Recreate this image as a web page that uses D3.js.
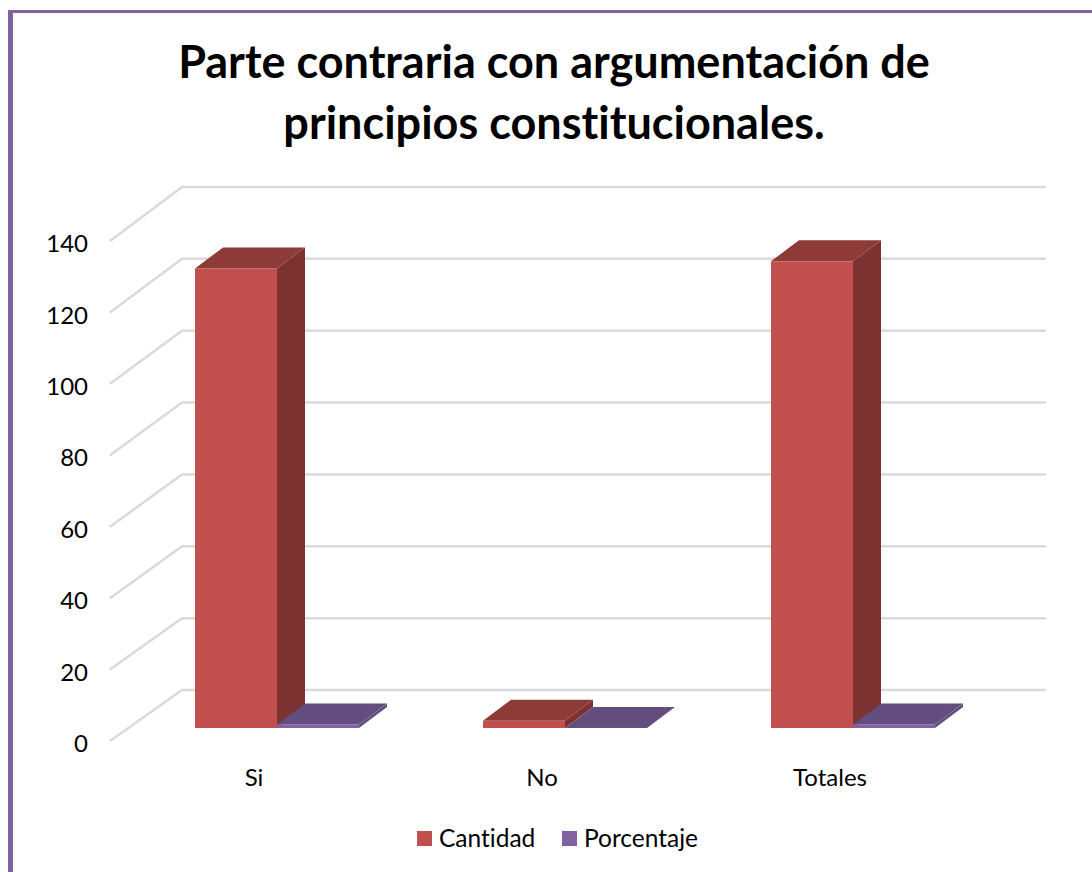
<!DOCTYPE html>
<html>
<head>
<meta charset="utf-8">
<script src="https://cdn.jsdelivr.net/npm/d3@7"></script>
<style>
  html, body { margin: 0; padding: 0; background: #fff; }
  svg { display: block; }
  text { font-family: Lato, "Open Sans", sans-serif; fill: #000; font-variant-ligatures: none; }
</style>
</head>
<body>
<script>
// chart values
var categories = ["Si", "No", "Totales"];
var seriesNames = ["Cantidad", "Porcentaje"];
var cantidad = [128, 2, 130];
var porcentaje = [1, 0.02, 1];
var yTicks = [0, 20, 40, 60, 80, 100, 120, 140];
var titleLines = ["Parte contraria con argumentación de", "principios constitucionales."];

var width = 1092;
var height = 872;

var colors = {
  Cantidad: { front: "#c0504d", side: "#7d3130", top: "#8e3a38" },
  Porcentaje: { front: "#8064a2", side: "#644e7e", top: "#644e7e" }
};

var svg = d3.select("body").append("svg")
  .attr("width", width)
  .attr("height", height);

// the picture is a little soft, so marks get a slight blur
svg.append("defs").append("filter")
  .attr("id", "soft")
  .append("feGaussianBlur")
  .attr("stdDeviation", 0.6);

// purple frame, top and left only
svg.append("rect").attr("x", 8).attr("y", 10).attr("width", width - 8).attr("height", 3).attr("fill", "#8064a2");
svg.append("rect").attr("x", 8).attr("y", 10).attr("width", 5).attr("height", height - 10).attr("fill", "#8064a2");

// title
svg.selectAll("text.title")
  .data(titleLines)
  .enter()
  .append("text")
  .attr("class", "title")
  .attr("x", 554)
  .attr("y", (d, i) => 78 + i * 61)
  .attr("text-anchor", "middle")
  .style("font-size", "45px")
  .style("font-weight", 700)
  .text(d => d);

// scales: front edge of the floor, back wall, and the plane the bars stand on
var yFront = d3.scaleLinear().domain([0, 140]).range([741, 241]);
var yBack = d3.scaleLinear().domain([0, 140]).range([690, 187]);
var yBar = d3.scaleLinear().domain([0, 140]).range([728, 225.4]);

var xLabel = d3.scaleBand().domain(categories).range([110, 974]);
var xGroup = d3.scaleBand().domain(categories).range([133, 997]).paddingInner(0.4306).paddingOuter(0.2153);
var xSeries = d3.scaleBand().domain(seriesNames).range([0, xGroup.bandwidth()]);

var wallLeft = 182;
var wallRight = 1046;
var frontLeft = 110;
var depthX = 28;
var depthY = -21;

// gridlines along the side and back walls
var grid = svg.append("g")
  .attr("filter", "url(#soft)")
  .attr("fill", "none")
  .attr("stroke", "#dadada")
  .attr("stroke-width", 2.5);

grid.selectAll("path")
  .data(yTicks)
  .enter()
  .append("path")
  .attr("d", d => d3.line()([
    [frontLeft, yFront(d)],
    [wallLeft, yBack(d)],
    [wallRight, yBack(d)]
  ]));

// 3d bars, red first so the purple floor piece sits over its side face
var bars = svg.append("g").attr("filter", "url(#soft)");

function drawSeries(name, values) {
  var c = colors[name];
  var w = xSeries.bandwidth();
  var base = yBar(0);
  categories.forEach(function(cat, i) {
    var x = xGroup(cat) + xSeries(name);
    var top = yBar(values[i]);
    var line = d3.line();
    // side
    bars.append("path")
      .attr("d", line([[x + w, base], [x + w + depthX, base + depthY], [x + w + depthX, top + depthY], [x + w, top]]) + "Z")
      .attr("fill", c.side);
    // top
    bars.append("path")
      .attr("d", line([[x, top], [x + depthX, top + depthY], [x + w + depthX, top + depthY], [x + w, top]]) + "Z")
      .attr("fill", c.top);
    // front
    bars.append("rect")
      .attr("x", x)
      .attr("y", top)
      .attr("width", w)
      .attr("height", base - top)
      .attr("fill", c.front);
  });
}

drawSeries("Cantidad", cantidad);
drawSeries("Porcentaje", porcentaje);

// axes
var yAxis = d3.axisLeft(yFront).tickValues(yTicks).tickSize(0).tickPadding(22);
var gy = svg.append("g")
  .attr("transform", "translate(" + frontLeft + ",3)")
  .call(yAxis);
gy.select(".domain").remove();
gy.selectAll("text").style("font-family", "Lato").style("font-size", "24px");

var xAxis = d3.axisBottom(xLabel).tickSize(0).tickPadding(0);
var gx = svg.append("g")
  .attr("transform", "translate(0,767)")
  .call(xAxis);
gx.select(".domain").remove();
gx.selectAll("text").style("font-family", "Lato").style("font-size", "24px").attr("dy", "0.8em");

// legend
var legendX = { Cantidad: 417, Porcentaje: 562 };
var legend = svg.selectAll("g.legend")
  .data(seriesNames)
  .enter()
  .append("g")
  .attr("class", "legend")
  .attr("transform", d => "translate(" + legendX[d] + ",831)");

legend.append("rect")
  .attr("width", 15)
  .attr("height", 15)
  .attr("fill", d => colors[d].front);

legend.append("text")
  .attr("x", 22)
  .attr("y", 16)
  .style("font-size", "24.5px")
  .text(d => d);
</script>
</body>
</html>
